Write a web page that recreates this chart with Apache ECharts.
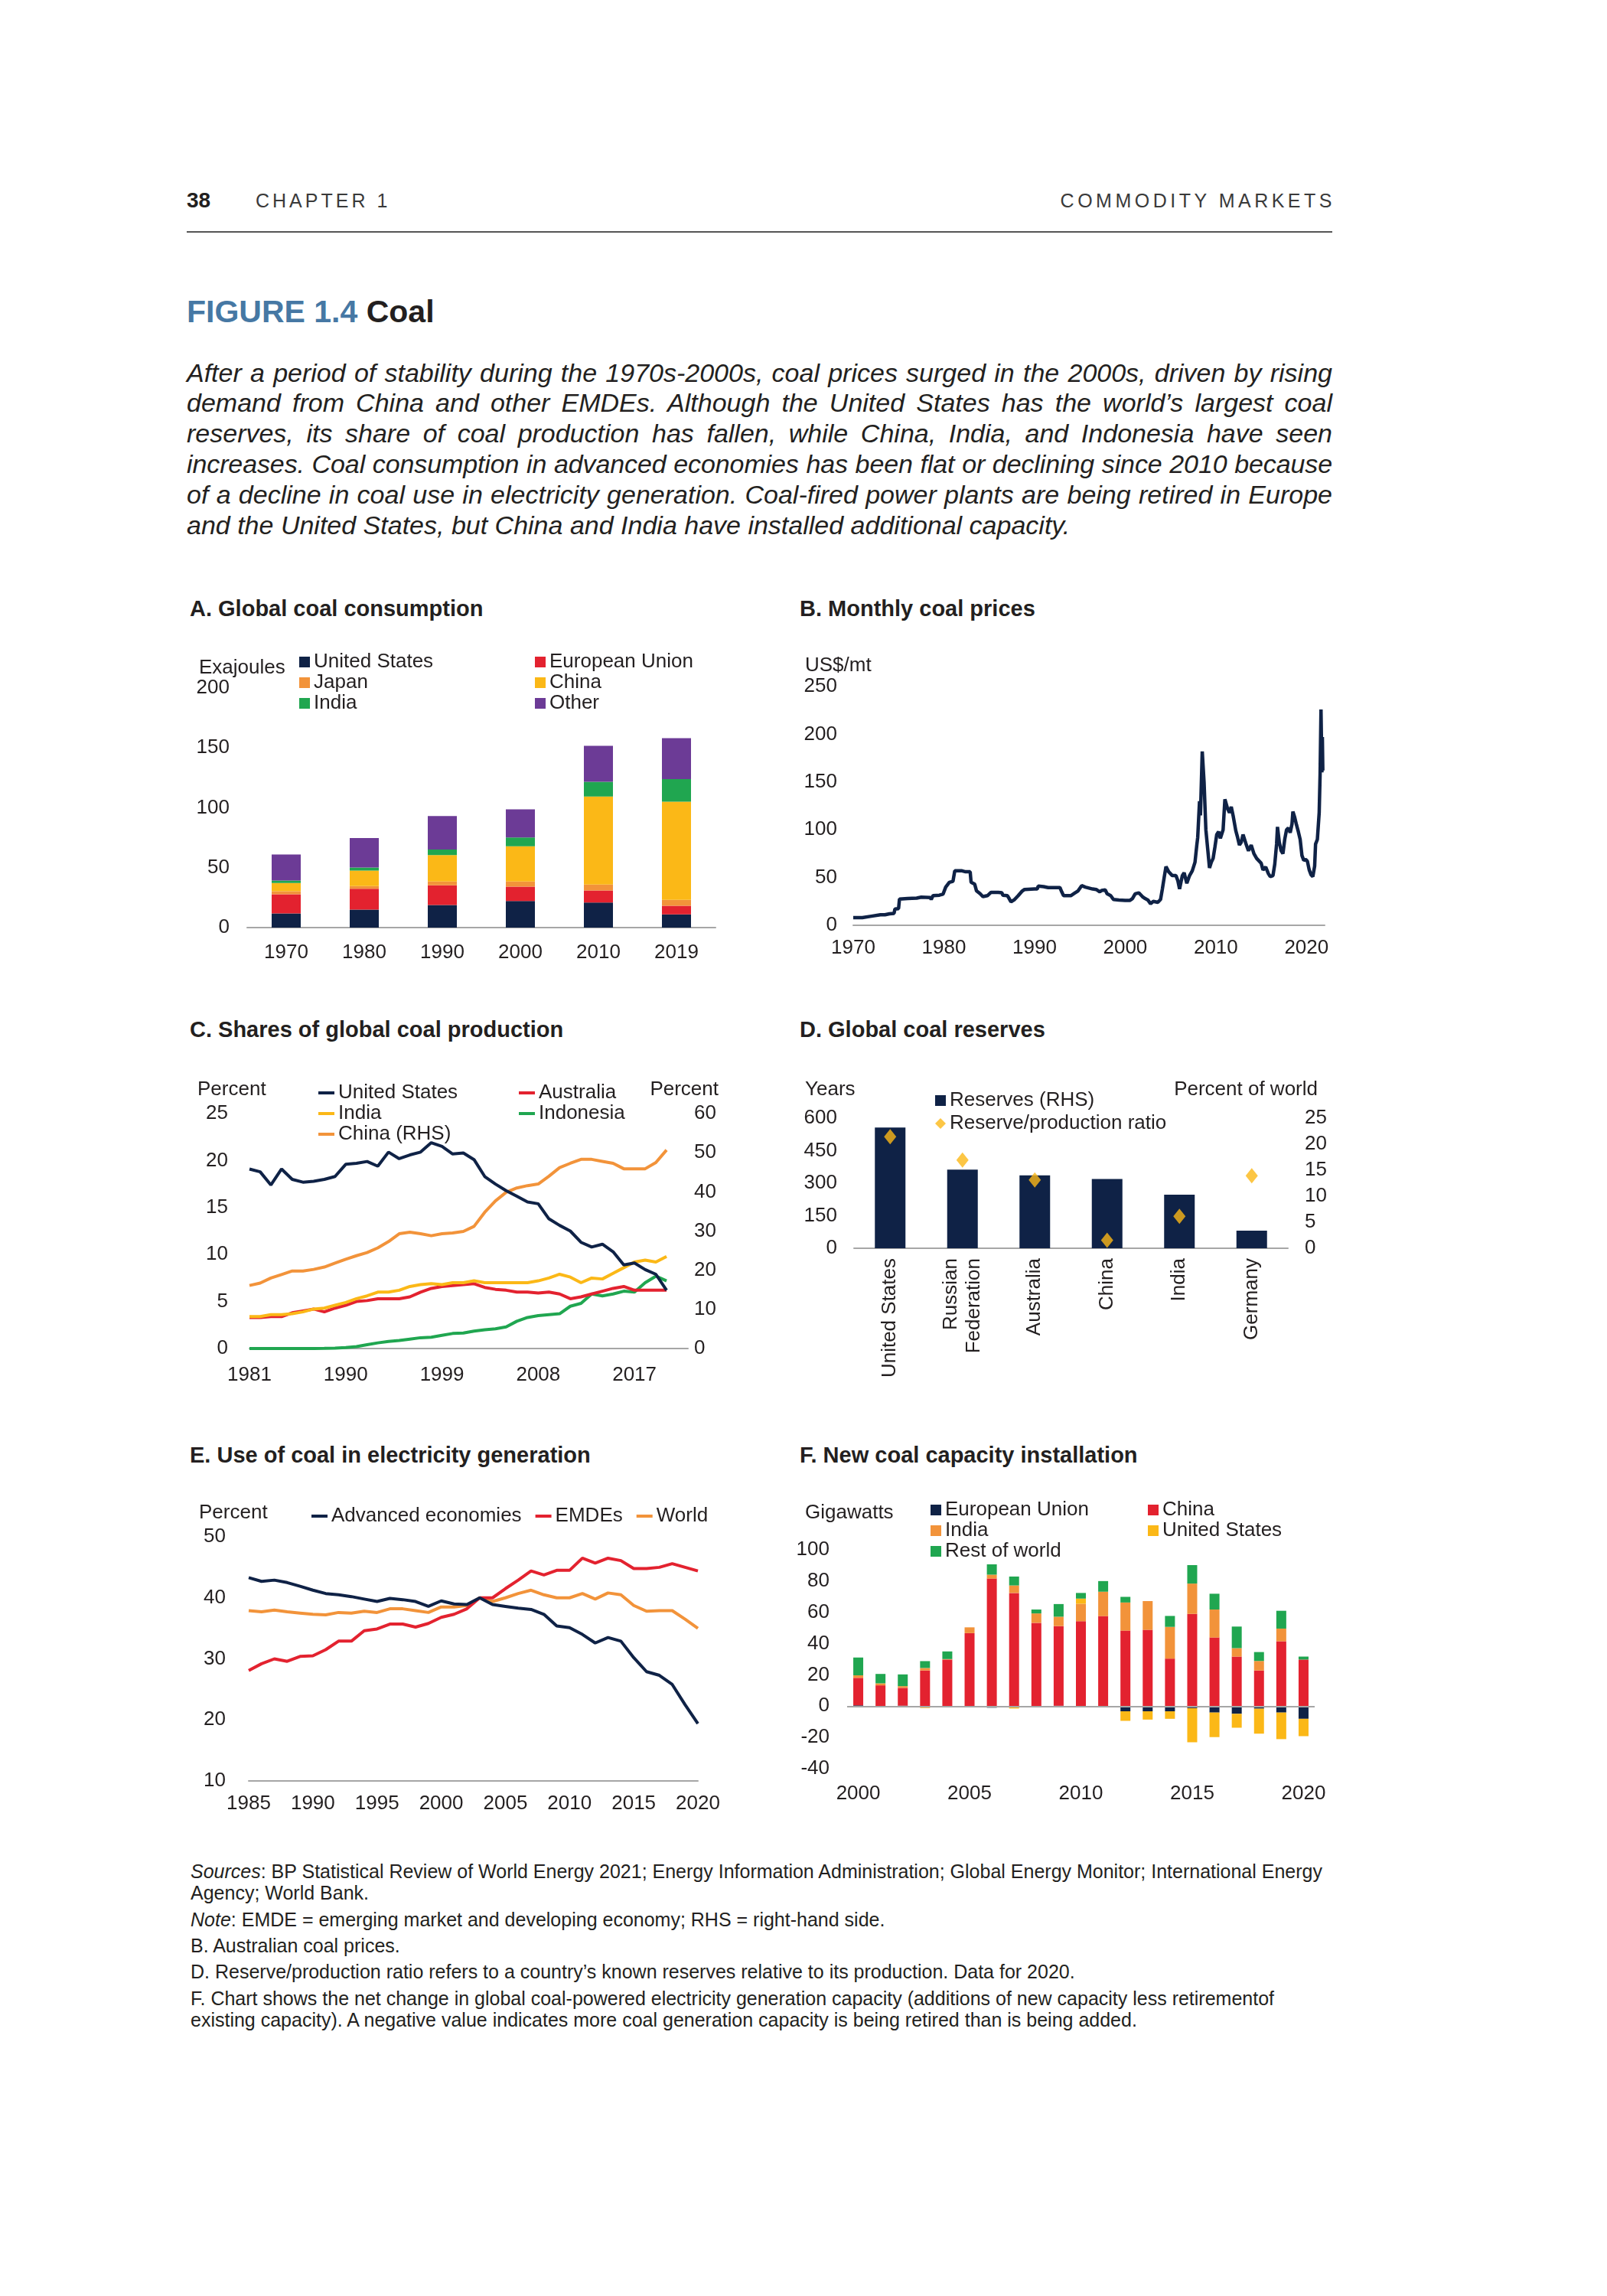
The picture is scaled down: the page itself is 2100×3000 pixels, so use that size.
<!DOCTYPE html>
<html><head><meta charset="utf-8">
<script src="https://cdn.jsdelivr.net/npm/echarts@6.0.0/dist/echarts.min.js"></script>
<style>
body{margin:0;background:#fff;}
#page{position:relative;width:2100px;height:3000px;font-family:'Liberation Sans',Arial,sans-serif;color:#231f20;overflow:hidden;}
.t{position:absolute;white-space:nowrap;}
.pl{position:absolute;left:244px;width:1497px;font-style:italic;font-size:34px;line-height:40px;height:40px;white-space:nowrap;text-align:justify;text-align-last:justify;}
.pt{position:absolute;font-weight:bold;font-size:29px;line-height:34px;white-space:nowrap;}
.fn{position:absolute;left:249px;font-size:25px;line-height:28px;white-space:nowrap;}
.panel{position:absolute;}
</style></head>
<body>
<div id="page">
  <div class="t" style="left:244px;top:246px;font-weight:bold;font-size:28px;line-height:32px;">38</div>
  <div class="t" style="left:334px;top:246px;font-size:25px;line-height:32px;letter-spacing:4px;color:#3a3a3a;">CHAPTER 1</div>
  <div class="t" style="right:355px;top:246px;font-size:25px;line-height:32px;letter-spacing:4.5px;color:#3a3a3a;">COMMODITY MARKETS</div>
  <div style="position:absolute;left:244px;top:302px;width:1497px;height:2px;background:#555;"></div>
  <div class="t" style="left:244px;top:383px;font-weight:bold;font-size:41px;line-height:48px;"><span style="color:#4678a4;">FIGURE 1.4</span> Coal</div>

  <div class="pl" style="top:467px;">After a period of stability during the 1970s-2000s, coal prices surged in the 2000s, driven by rising</div>
  <div class="pl" style="top:506px;">demand from China and other EMDEs. Although the United States has the world’s largest coal</div>
  <div class="pl" style="top:546px;">reserves, its share of coal production has fallen, while China, India, and Indonesia have seen</div>
  <div class="pl" style="top:586px;">increases. Coal consumption in advanced economies has been flat or declining since 2010 because</div>
  <div class="pl" style="top:626px;">of a decline in coal use in electricity generation. Coal-fired power plants are being retired in Europe</div>
  <div class="pl" style="top:666px;text-align:left;text-align-last:left;">and the United States, but China and India have installed additional capacity.</div>

  <div class="pt" style="left:248px;top:778px;">A. Global coal consumption</div>
  <div class="pt" style="left:1045px;top:778px;">B. Monthly coal prices</div>
  <div class="pt" style="left:248px;top:1328px;">C. Shares of global coal production</div>
  <div class="pt" style="left:1045px;top:1328px;">D. Global coal reserves</div>
  <div class="pt" style="left:248px;top:1884px;">E. Use of coal in electricity generation</div>
  <div class="pt" style="left:1045px;top:1884px;">F. New coal capacity installation</div>

  <div class="fn" style="top:2431px;"><i>Sources</i>: BP Statistical Review of World Energy 2021; Energy Information Administration; Global Energy Monitor; International Energy</div>
  <div class="fn" style="top:2459px;">Agency; World Bank.</div>
  <div class="fn" style="top:2494px;"><i>Note</i>: EMDE = emerging market and developing economy; RHS = right-hand side.</div>
  <div class="fn" style="top:2528px;">B. Australian coal prices.</div>
  <div class="fn" style="top:2562px;">D. Reserve/production ratio refers to a country’s known reserves relative to its production. Data for 2020.</div>
  <div class="fn" style="top:2597px;">F. Chart shows the net change in global coal-powered electricity generation capacity (additions of new capacity less retirementof</div>
  <div class="fn" style="top:2625px;">existing capacity). A negative value indicates more coal generation capacity is being retired than is being added.</div>
</div>
<script>
// ---------- Panel A: Global coal consumption (exajoules) ----------
const consYears = ['1970','1980','1990','2000','2010','2019'];
const consUS    = [11.8, 15.0, 18.8, 22.2, 20.9, 11.1];
const consEU    = [16.0, 17.5, 16.5, 12.0, 10.1, 7.1];
const consJapan = [2.5, 2.1, 3.2, 4.3, 4.9, 4.9];
const consChina = [7.0, 13.0, 22.0, 29.4, 73.5, 82.0];
const consIndia = [2.0, 2.6, 4.7, 7.3, 12.4, 18.8];
const consOther = [21.8, 24.6, 28.0, 23.5, 29.9, 34.2];

// ---------- Panel B: Monthly coal prices (US$/mt) ----------
const priceYears = [1970.0,1971.0,1971.1,1972.0,1972.1,1973.0,1973.5,1974.0,1974.5,1974.6,1975.0,1975.1,1976.0,1977.0,1977.5,1978.5,1978.6,1978.8,1979.5,1979.9,
 1980.2,1980.6,1981.0,1981.2,1982.0,1982.4,1982.9,1983.0,1983.4,1983.6,1984.0,1984.3,1984.8,1985.2,1986.0,1986.4,1986.5,1987.0,1987.2,1987.4,1987.8,1988.2,1988.6,1988.9,
 1990.0,1990.3,1990.4,1991.0,1991.5,1992.8,1993.0,1993.2,1994.0,1994.1,1994.4,1994.8,1995.2,1995.6,1996.4,1996.8,1997.2,1997.4,1997.8,1998.0,1998.4,1998.7,1999.3,
 2000.0,2000.5,2000.8,2001.1,2001.5,2001.9,2002.2,2002.5,2002.8,2003.1,2003.6,2003.9,2004.1,2004.3,2004.5,2004.8,2005.2,2005.6,2005.8,2006.0,2006.3,2006.5,2006.8,
 2007.1,2007.4,2007.7,2007.9,2008.0,2008.2,2008.3,2008.5,2008.7,2008.9,2009.1,2009.3,2009.5,2009.7,2009.9,2010.1,2010.3,2010.5,2010.8,2011.0,2011.3,2011.5,2011.7,2011.9,
 2012.2,2012.4,2012.6,2012.8,2013.0,2013.3,2013.6,2013.9,2014.2,2014.5,2014.8,2015.0,2015.2,2015.5,2015.8,2016.0,2016.3,2016.5,2016.7,2016.8,2017.0,2017.2,2017.4,2017.6,2017.8,
 2018.0,2018.2,2018.4,2018.5,2018.7,2018.9,2019.1,2019.3,2019.5,2019.7,2019.9,2020.1,2020.3,2020.5,2020.7,2020.9,2021.0,2021.2,2021.4,2021.5,2021.6,2021.7,2021.75,2021.8];
const priceValues = [8,8,9,9.5,10.5,11,11,12,12.5,17,17.5,27.5,28,28.5,29.5,29,27,31,31.5,32.5,
 40,45,46,57,57,56,56,45,43,36,33,30,31,34.5,34.5,34,31.5,31,28,24.5,27,31,35.5,37.5,
 38,38,41,40.5,39.5,39.5,35,31,31,29.5,33.5,36,41.5,40,38,37.5,35,36.5,37,33,31,27,26.5,
 26,26,28,33,34,30,28,26.5,22.5,25,24,27,38,50,61.5,56,52,52,47,38,52,55,44,
 52,57,66,84,92,130,115,182,150,100,80,60,66,70,82,95,98,91,100,132,122,118,124,115,
 99,92,84,87,95,86,78,84,75,70,67,65,58,61,54,51,52,64,85,103,87,78,75,90,100,
 102,97,106,119,113,105,98,90,73,68,69,67,58,53,51,62,85,90,118,158,226,160,197,162];

// ---------- Panel C: Shares of global coal production (percent) ----------
const prodAxisYears = ['1981','1982','1983','1984','1985','1986','1987','1988','1989','1990','1991','1992','1993','1994','1995','1996','1997','1998','1999','2000',
 '2001','2002','2003','2004','2005','2006','2007','2008','2009','2010','2011','2012','2013','2014','2015','2016','2017','2018','2019','2020','2021','2022'];
const prodUS = [19.1,18.8,17.4,19.1,18.0,17.7,17.8,18.0,18.3,19.6,19.7,19.9,19.4,20.9,20.2,20.6,20.9,21.9,21.5,20.7,
 20.8,20.1,18.3,17.5,16.8,16.2,15.6,15.4,13.8,13.1,12.5,11.3,10.8,11.1,10.3,8.9,9.1,8.4,7.9,6.2];
const prodIndia = [3.4,3.4,3.6,3.6,3.7,3.9,4.2,4.3,4.6,4.9,5.3,5.6,6.0,6.0,6.2,6.6,6.8,6.9,6.8,7.0,
 7.0,7.2,7.0,7.0,7.0,7.0,7.0,7.2,7.5,7.9,7.6,7.0,7.5,7.4,8.0,8.6,9.2,9.4,9.2,9.8];
const prodAustralia = [3.3,3.3,3.4,3.4,3.8,4.0,4.2,3.9,4.3,4.6,5.0,5.1,5.3,5.3,5.3,5.5,6.0,6.4,6.6,6.7,
 6.8,6.9,6.5,6.3,6.2,6.0,6.0,5.9,6.0,5.8,5.3,5.5,5.8,6.1,6.4,6.6,6.2,6.2,6.2,6.2];
const prodIndonesia = [0,0,0,0,0,0,0,0.02,0.05,0.1,0.2,0.4,0.6,0.75,0.85,1.0,1.15,1.2,1.4,1.6,
 1.65,1.85,2.0,2.1,2.3,2.9,3.3,3.5,3.6,3.7,4.5,4.8,5.8,5.6,5.8,6.1,6.0,7.0,7.7,7.2];
const prodChina = [16.1,16.7,18.0,18.9,19.8,19.8,20.2,20.8,21.8,22.8,23.7,24.5,25.7,27.3,29.3,29.7,29.3,28.8,29.3,29.5,
 29.9,31.2,34.8,37.7,39.9,41.0,41.6,42.0,44.0,46.2,47.3,48.3,48.3,47.8,47.3,45.9,45.9,45.9,47.5,50.7];

// ---------- Panel D: Global coal reserves ----------
const reserveCountries = ['United States','Russian\nFederation','Australia','China','India','Germany'];
const reserveShare = [23.2, 15.1, 14.0, 13.3, 10.3, 3.4];      // percent of world (RHS)
const reserveRatio = [514, 407, 315, 37, 147, 334];            // years (LHS)

// ---------- Panel E: Use of coal in electricity generation (percent) ----------
const elecYears = [1985,1986,1987,1988,1989,1990,1991,1992,1993,1994,1995,1996,1997,1998,1999,2000,2001,2002,
 2003,2004,2005,2006,2007,2008,2009,2010,2011,2012,2013,2014,2015,2016,2017,2018,2019,2020];
const elecAdvanced = [43.3,42.7,42.9,42.5,41.9,41.25,40.7,40.5,40.2,39.8,39.4,39.9,39.7,39.4,38.6,39.5,39.0,38.9,
 40.0,38.9,38.6,38.3,38.1,37.3,35.4,35.1,34.0,32.6,33.5,32.9,30.2,27.9,27.3,25.8,22.5,19.4];
const elecEMDE = [28.1,29.2,30.0,29.6,30.4,30.5,31.5,32.9,32.9,34.6,34.9,35.7,35.7,35.2,35.8,36.8,37.3,38.2,
 40.0,40.0,41.5,42.9,44.4,43.75,44.5,44.5,46.5,45.7,46.5,46.1,44.8,44.8,45.0,45.6,45.0,44.4];
const elecWorld = [37.9,37.7,38.0,37.7,37.5,37.3,37.2,37.6,37.5,37.8,37.6,38.2,38.2,37.9,37.6,38.5,38.5,38.75,
 40.0,39.4,40.0,40.7,41.25,40.5,40.0,40.0,40.7,39.8,40.8,40.5,38.75,37.8,37.9,37.9,36.5,35.0];

// ---------- Panel F: New coal capacity installation (GW) ----------
const capYears = ['2000','2001','2002','2003','2004','2005','2006','2007','2008','2009','2010','2011','2012','2013','2014','2015','2016','2017','2018','2019','2020'];
const capEU    = [0.5,-0.5,0.3,0,-0.3,-0.5,-1,-0.5,-0.5,0.3,0,-0.3,-3.3,-3.3,-3.3,-1.3,-4.1,-4.9,-1.6,-4.1,-8.1];
const capChina = [17.6,13.3,11.4,22.8,29.8,46.7,81.6,72.4,53.3,50.9,54.3,57.6,48.3,48.8,30.4,59.0,43.9,31.7,22.8,41.5,29.8];
const capIndia = [1.6,1.3,1.1,1.6,0.3,3.7,2.5,4.8,6.0,6.0,11.2,15.6,18.0,18.4,20.3,19.4,17.9,5.4,6.1,8.1,0];
const capUS    = [0,0,0,-1.2,0,0,0,-1.0,0,0,3.3,0,-6.1,-5.3,-4.8,-21.8,-15.7,-8.9,-16.0,-17.0,-11.1];
const capRest  = [11.4,6.0,7.5,4.4,4.9,0,6.6,5.7,2.5,8.1,3.6,6.8,3.6,0,7.0,11.8,10.1,13.8,5.7,11.4,1.9];

// ---------- paragraph fit: tighten any justified line that is wider than its box ----------
document.querySelectorAll('.pl').forEach(el => {
  const over = el.scrollWidth - el.clientWidth;
  if (over > 0) el.style.letterSpacing = (-(over + 4) / el.textContent.length).toFixed(3) + 'px';
});

// ---------- styling ----------
const FONT = "'Liberation Sans', Arial, sans-serif";
const TXT = '#231f20';
const AX = '#a6a6a6';
const NAVY = '#0f2246', RED = '#e3222f', ORANGE = '#f2933a', YELLOW = '#fbb817', GREEN = '#20a650', PURPLE = '#6c3b96';
const FS = 26;
const plain = v => String(v);

function panel(x, y, w, h, dy) {
  const d = document.createElement('div');
  d.className = 'panel';
  d.style.cssText = `left:${x}px;top:${y + dy}px;width:${w}px;height:${h}px;`;
  document.getElementById('page').appendChild(d);
  return { chart: echarts.init(d, null, { renderer: 'canvas' }), ox: x, oy: y };
}
function G(p, l, t, w, h) { return { left: l - p.ox, top: t - p.oy, width: w, height: h, outerBoundsMode: 'none', containLabel: false }; }
function T(p, s, x, y, align) {
  return { type: 'text', x: x - p.ox, y: y - p.oy, silent: true,
    style: { text: s, fontSize: FS, fontFamily: FONT, fill: TXT, align: align || 'left', verticalAlign: 'middle' } };
}
function valAxis(min, max, interval, margin, extra) {
  return Object.assign({ type: 'value', min, max, interval, splitLine: { show: false }, axisLine: { show: false },
    axisTick: { show: false }, axisLabel: { fontSize: FS, color: TXT, fontFamily: FONT, margin, formatter: plain } }, extra || {});
}
function leg(p, x, y, names, extra) {
  return Object.assign({ orient: 'vertical', left: x - p.ox, top: y - p.oy, padding: 0, itemGap: 1, itemWidth: 14, itemHeight: 14,
    icon: 'rect', selectedMode: false, textStyle: { fontSize: FS, color: TXT, fontFamily: FONT, lineHeight: 26 }, data: names }, extra || {});
}
const base = { animation: false, textStyle: { fontFamily: FONT } };

// ---------- A ----------
(function () {
  const p = panel(240, 830, 740, 470, 6);
  const names = ['United States','European Union','Japan','China','India','Other'];
  const vals = [consUS, consEU, consJapan, consChina, consIndia, consOther];
  const cols = [NAVY, RED, ORANGE, YELLOW, GREEN, PURPLE];
  p.chart.setOption(Object.assign({}, base, {
    grid: G(p, 323, 893, 612, 313),
    xAxis: { type: 'category', data: consYears, axisLine: { lineStyle: { color: AX, width: 2 } }, axisTick: { show: false },
      axisLabel: { fontSize: FS, color: TXT, fontFamily: FONT, margin: 20 } },
    yAxis: valAxis(0, 200, 50, 23),
    legend: [leg(p, 391, 846, ['United States','Japan','India']), leg(p, 699, 846, ['European Union','China','Other'])],
    graphic: [T(p, 'Exajoules', 260, 867)],
    series: names.map((n, i) => ({ name: n, type: 'bar', stack: 'c', barWidth: 38, data: vals[i], itemStyle: { color: cols[i] } }))
  }));
})();

// ---------- B ----------
(function () {
  const p = panel(1000, 830, 760, 470, 6);
  p.chart.setOption(Object.assign({}, base, {
    grid: G(p, 1115, 891, 616, 312),
    xAxis: { type: 'value', min: 1970, max: 2022, interval: 10, splitLine: { show: false }, axisTick: { show: false },
      axisLine: { lineStyle: { color: AX, width: 2 } },
      axisLabel: { fontSize: FS, color: TXT, fontFamily: FONT, margin: 17, showMaxLabel: false, formatter: plain } },
    yAxis: valAxis(0, 250, 50, 21),
    graphic: [T(p, 'US$/mt', 1052, 864)],
    series: [{ type: 'line', showSymbol: false, data: priceYears.map((y, i) => [y, priceValues[i]]),
      lineStyle: { color: NAVY, width: 4.5 }, itemStyle: { color: NAVY } }]
  }));
})();

// ---------- C ----------
(function () {
  const p = panel(240, 1380, 740, 450, 6);
  const lineLeg = { itemWidth: 21, itemHeight: 4 };
  const mkLine = (n, d, c, yi) => ({ name: n, type: 'line', yAxisIndex: yi, showSymbol: false, data: d, lineStyle: { color: c, width: 4 }, itemStyle: { color: c } });
  p.chart.setOption(Object.assign({}, base, {
    grid: G(p, 326, 1449, 573, 307),
    xAxis: { type: 'category', data: prodAxisYears, boundaryGap: false, axisTick: { show: false },
      axisLine: { lineStyle: { color: AX, width: 2 } },
      axisLabel: { fontSize: FS, color: TXT, fontFamily: FONT, margin: 22, interval: 8 } },
    yAxis: [valAxis(0, 25, 5, 28), valAxis(0, 60, 10, 8, { position: 'right' })],
    legend: [leg(p, 416, 1409, ['United States','India','China (RHS)'], lineLeg), leg(p, 678, 1409, ['Australia','Indonesia'], lineLeg)],
    graphic: [T(p, 'Percent', 258, 1418), T(p, 'Percent', 939, 1418, 'right')],
    series: [
      mkLine('Indonesia', prodIndonesia, GREEN, 0),
      mkLine('Australia', prodAustralia, RED, 0),
      mkLine('India', prodIndia, YELLOW, 0),
      mkLine('China (RHS)', prodChina, ORANGE, 1),
      mkLine('United States', prodUS, NAVY, 0)
    ]
  }));
})();

// ---------- D ----------
(function () {
  const p = panel(1000, 1380, 760, 500, 6);
  p.chart.setOption(Object.assign({}, base, {
    grid: G(p, 1116, 1455, 567, 170),
    xAxis: { type: 'category', data: reserveCountries, axisTick: { show: false },
      axisLine: { lineStyle: { color: AX, width: 2 } },
      axisLabel: { fontSize: FS, color: TXT, fontFamily: FONT, margin: 13, rotate: 90, interval: 0, lineHeight: 30 } },
    yAxis: [valAxis(0, 600, 150, 22), valAxis(0, 25, 5, 22, { position: 'right' })],
    legend: leg(p, 1222, 1419, [{ name: 'Reserves (RHS)', icon: 'rect' }, { name: 'Reserve/production ratio', icon: 'diamond' }], { itemGap: 4 }),
    graphic: [T(p, 'Years', 1052, 1418), T(p, 'Percent of world', 1722, 1418, 'right')],
    series: [
      { name: 'Reserves (RHS)', type: 'bar', yAxisIndex: 1, barWidth: 40, data: reserveShare, itemStyle: { color: NAVY } },
      { name: 'Reserve/production ratio', type: 'scatter', yAxisIndex: 0, symbol: 'diamond', symbolSize: [16, 20], data: reserveRatio, itemStyle: { color: YELLOW } }
    ]
  }));
})();

// ---------- E ----------
(function () {
  const p = panel(240, 1930, 740, 460, 7);
  const mkLine = (n, d, c) => ({ name: n, type: 'line', showSymbol: false, data: elecYears.map((y, i) => [y, d[i]]), lineStyle: { color: c, width: 4 }, itemStyle: { color: c } });
  p.chart.setOption(Object.assign({}, base, {
    grid: G(p, 325, 2001, 587, 319),
    xAxis: { type: 'value', min: 1985, max: 2020, interval: 5, splitLine: { show: false }, axisTick: { show: false },
      axisLine: { lineStyle: { color: AX, width: 2 } },
      axisLabel: { fontSize: FS, color: TXT, fontFamily: FONT, margin: 17, formatter: plain } },
    yAxis: valAxis(10, 50, 10, 30),
    legend: { orient: 'horizontal', left: 407 - p.ox, top: 1961 - p.oy, padding: 0, itemGap: 18, itemWidth: 21, itemHeight: 4, icon: 'rect', selectedMode: false,
      textStyle: { fontSize: FS, color: TXT, fontFamily: FONT, lineHeight: 26 }, data: ['Advanced economies','EMDEs','World'] },
    graphic: [T(p, 'Percent', 260, 1970)],
    series: [mkLine('World', elecWorld, ORANGE), mkLine('EMDEs', elecEMDE, RED), mkLine('Advanced economies', elecAdvanced, NAVY)]
  }));
})();

// ---------- F ----------
(function () {
  const p = panel(1000, 1930, 760, 460, 7);
  const names = ['European Union','China','India','United States','Rest of world'];
  const vals = [capEU, capChina, capIndia, capUS, capRest];
  const cols = [NAVY, RED, ORANGE, YELLOW, GREEN];
  const series = names.map((n, i) => ({ name: n, type: 'bar', stack: 'cap', barWidth: 13, data: vals[i], itemStyle: { color: cols[i] } }));
  series[0].markLine = { silent: true, symbol: 'none', label: { show: false }, lineStyle: { color: AX, width: 2, type: 'solid' }, data: [{ yAxis: 0 }] };
  p.chart.setOption(Object.assign({}, base, {
    grid: G(p, 1107, 2018, 611, 286),
    xAxis: { type: 'category', data: capYears, axisTick: { show: false }, axisLine: { show: false, onZero: false },
      axisLabel: { fontSize: FS, color: TXT, fontFamily: FONT, margin: 20, interval: 4 } },
    yAxis: valAxis(-40, 100, 20, 23),
    legend: [leg(p, 1216, 1953, ['European Union','India','Rest of world']), leg(p, 1500, 1953, ['China','United States'])],
    graphic: [T(p, 'Gigawatts', 1052, 1970)],
    series
  }));
})();
</script>
</body></html>
